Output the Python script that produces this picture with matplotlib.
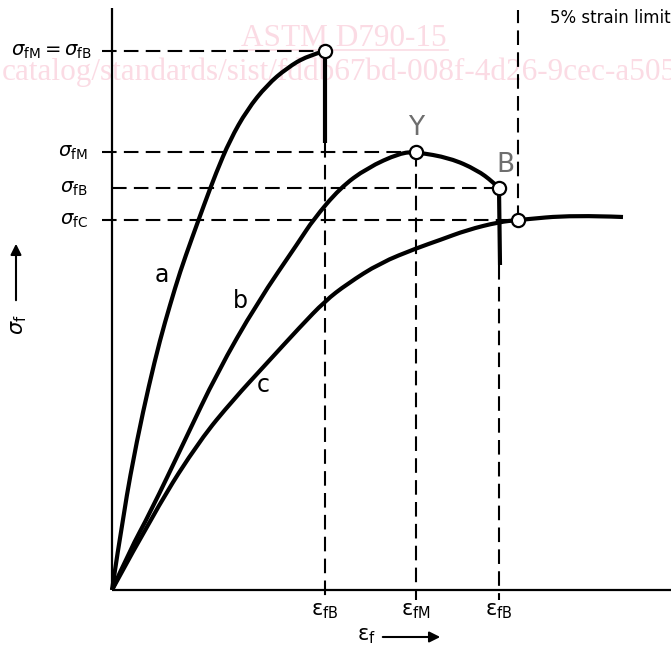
import numpy as np
import matplotlib
matplotlib.use("Agg")
import matplotlib.pyplot as plt
from matplotlib.path import Path
from matplotlib.patches import PathPatch

plt.rcParams['font.family'] = ['DejaVu Sans']
plt.rcParams['mathtext.fontset'] = 'dejavusans'

# --- Curve data (strain, stress in arbitrary drawing units) ---
a_strain = [0, 12, 25, 37, 48, 58, 68, 80, 92, 104, 118, 135, 155, 175, 195, 213]
a_stress = [0, 80, 150, 205, 250, 285, 318, 352, 385, 417, 450, 480, 505, 522, 534, 539]
a_break_stress = 447

b_strain = [0, 18, 38, 73, 105, 145, 188, 201, 228, 255, 288, 304, 338, 365, 381, 387]
b_stress = [0, 40, 77, 150, 217, 287, 350, 370, 402, 422, 437, 438, 432, 420, 408, 402]
b_break_stress = 325

c_strain = [0, 45, 88, 121, 155, 188, 213, 235, 268, 305, 328, 355, 387, 406, 461, 511]
c_stress = [0, 83, 150, 190, 227, 263, 289, 306, 327, 342, 350, 360, 368, 370, 375, 373]

# characteristic points
eps_fB_a, sig_fB_a = 213, 539      # a: sigma_fM = sigma_fB
eps_fM_b, sig_fM_b = 304, 438      # b: yield (Y)
eps_fB_b, sig_fB_b = 387, 402      # b: break (B)
eps_5pct, sig_fC = 406, 370        # c: 5 % strain limit

DARK = 'black'
DASH = dict(color=DARK, lw=1.5, dashes=(7, 3.5))


def smooth_curve(ax, xs, ys, **kw):
    """Draw a smooth curve using quadratic Bezier segments through midpoints."""
    pts = list(zip(xs, ys))
    verts = [pts[0]]
    codes = [Path.MOVETO]
    for i in range(1, len(pts) - 1):
        mid = ((pts[i][0] + pts[i + 1][0]) / 2, (pts[i][1] + pts[i + 1][1]) / 2)
        if i == len(pts) - 2:
            mid = pts[-1]
        verts += [pts[i], mid]
        codes += [Path.CURVE3, Path.CURVE3]
    patch = PathPatch(Path(verts, codes), facecolor='none', **kw)
    ax.add_patch(patch)


fig = plt.figure(figsize=(6.71, 6.46), dpi=100)
ax = fig.add_axes([0, 0, 1, 1])
ax.set_xlim(-112, 559)
ax.set_ylim(-56, 590)
ax.axis('off')

# axes lines
ax.plot([0, 0], [0, 582], color=DARK, lw=1.6, solid_capstyle='butt')
ax.plot([0, 559], [0, 0], color=DARK, lw=1.6, solid_capstyle='butt')

# dashed construction lines
ax.plot([-10, eps_fB_a], [sig_fB_a, sig_fB_a], **DASH)
ax.plot([-10, eps_fM_b], [sig_fM_b, sig_fM_b], **DASH)
ax.plot([0, eps_fB_b], [sig_fB_b, sig_fB_b], **DASH)
ax.plot([-10, eps_5pct], [sig_fC, sig_fC], **DASH)
ax.plot([eps_fB_a, eps_fB_a], [a_break_stress, -10], **DASH)
ax.plot([eps_fM_b, eps_fM_b], [sig_fM_b, -10], **DASH)
ax.plot([eps_fB_b, eps_fB_b], [b_break_stress, -10], **DASH)
ax.plot([eps_5pct, eps_5pct], [sig_fC, 580], **DASH)

# curves
CURVE = dict(edgecolor=DARK, lw=3, capstyle='butt', joinstyle='round', zorder=3)
smooth_curve(ax, a_strain, a_stress, **CURVE)
smooth_curve(ax, b_strain, b_stress, **CURVE)
smooth_curve(ax, c_strain, c_stress, **CURVE)
ax.plot([eps_fB_a, eps_fB_a], [sig_fB_a, a_break_stress], color=DARK, lw=3,
        solid_capstyle='butt', zorder=3)
ax.plot([eps_fB_b, eps_fB_b + 1], [sig_fB_b, b_break_stress], color=DARK, lw=3,
        solid_capstyle='butt', zorder=3)

# markers
MK = dict(marker='o', ms=9.5, mfc='white', mec=DARK, mew=1.6, ls='none', zorder=5)
ax.plot([eps_fB_a, eps_fM_b, eps_fB_b, eps_5pct],
        [sig_fB_a, sig_fM_b, sig_fB_b, sig_fC], **MK)

# y labels
ax.text(-20, sig_fB_a, r'$\sigma_{\mathrm{fM}}=\sigma_{\mathrm{fB}}$', fontsize=14,
        ha='right', va='center')
ax.text(-24, sig_fM_b, r'$\sigma_{\mathrm{fM}}$', fontsize=14, ha='right', va='center')
ax.text(-24, sig_fB_b, r'$\sigma_{\mathrm{fB}}$', fontsize=14, ha='right', va='center')
ax.text(-24, sig_fC, r'$\sigma_{\mathrm{fC}}$', fontsize=14, ha='right', va='center')

# x labels
for xpos, lab in [(eps_fB_a, 'fB'), (eps_fM_b, 'fM'), (eps_fB_b, 'fB')]:
    ax.text(xpos, -21, r'$\mathrm{ε}_{\mathrm{%s}}$' % lab, fontsize=15, ha='center', va='center')

# axis titles with arrows
ax.text(254, -46, r'$\mathrm{ε}_{\mathrm{f}}$', fontsize=15, ha='center', va='center')
ax.annotate('', xy=(331, -47), xytext=(268, -47),
            arrowprops=dict(arrowstyle='-|>', color=DARK, lw=1.5, mutation_scale=16))
ax.text(-93, 265, r'$\sigma_{\mathrm{f}}$', fontsize=15, ha='center', va='center', rotation=90)
ax.annotate('', xy=(-96, 349), xytext=(-96, 287),
            arrowprops=dict(arrowstyle='-|>', color=DARK, lw=1.5, mutation_scale=16))

# curve labels
ax.text(50, 315, 'a', fontsize=17, ha='center', va='center')
ax.text(128, 289, 'b', fontsize=17, ha='center', va='center')
ax.text(151, 205, 'c', fontsize=17, ha='center', va='center')
ax.text(304, 462, 'Y', fontsize=19, color='#6e6e6e', ha='center', va='center')
ax.text(393, 425, 'B', fontsize=19, color='#6e6e6e', ha='center', va='center')
ax.text(438, 572, '5% strain limit', fontsize=12, ha='left', va='center')

# watermark
WM = '#fbdbe4'
ax.text(232, 551, 'ASTM D790-15', fontsize=22.5, family='Liberation Serif', color=WM,
        ha='center', va='center', zorder=0)
ax.plot([128, 336], [540, 540], color=WM, lw=1.2, zorder=0)
ax.text(-110, 518, 'catalog/standards/sist/fddb67bd-008f-4d26-9cec-a50579',
        fontsize=22.5, family='Liberation Serif', color=WM, ha='left', va='center', zorder=0)

fig.savefig('out.png', dpi=100)
